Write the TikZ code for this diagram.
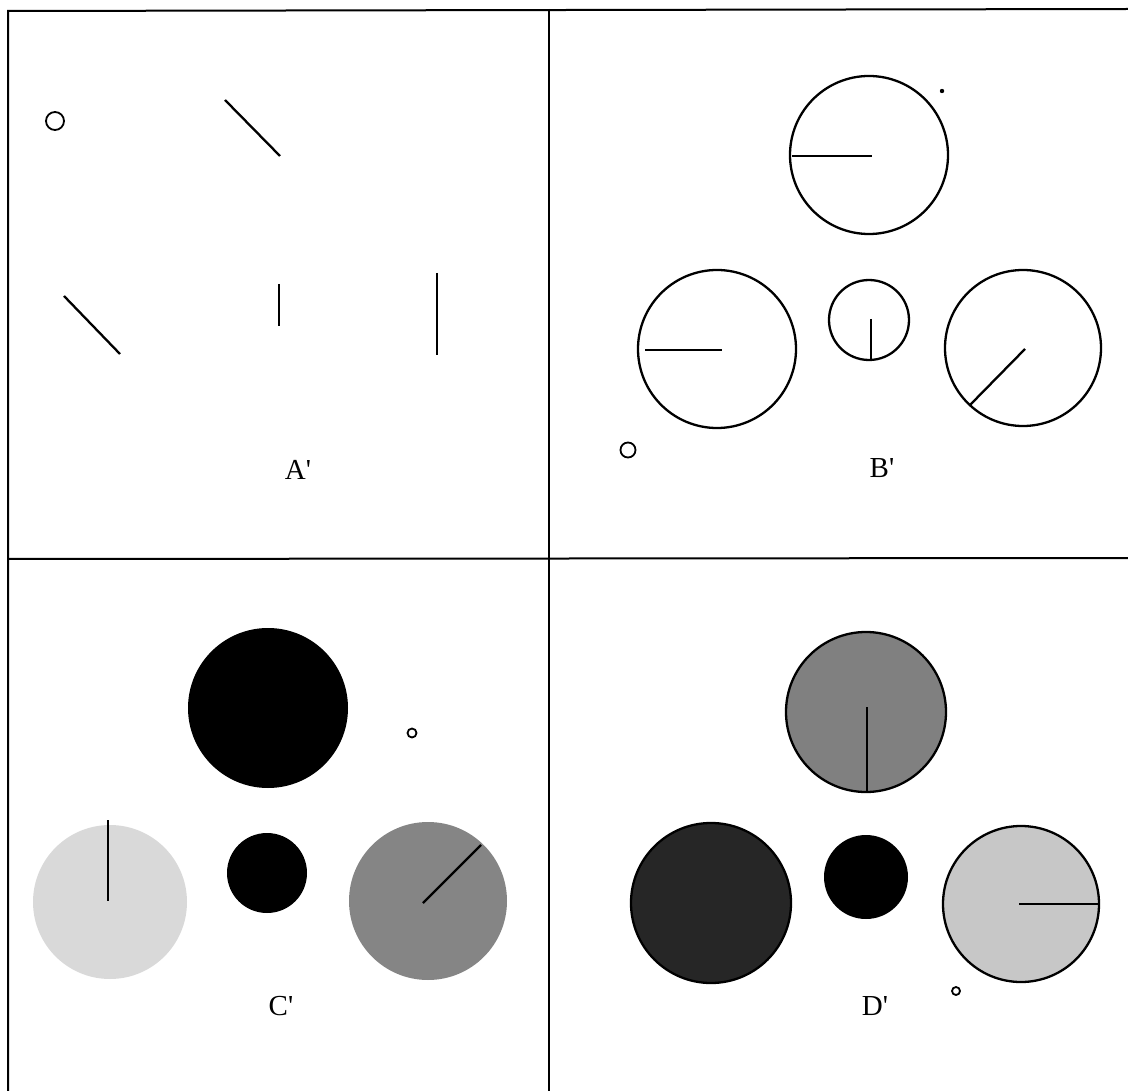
\documentclass[tikz,border=0pt]{standalone}
\usepackage{fontspec}
\setmainfont{Liberation Serif}
\begin{document}
\begin{tikzpicture}[x=1pt,y=-1pt,
  frame/.style={line width=2pt},
  ring/.style={line width=2.3pt},
  tick/.style={line width=2.3pt},
  dotc/.style={line width=1.8pt},
  lab/.style={font=\fontsize{29}{30}\selectfont, inner sep=0pt}]
\useasboundingbox (0,0) rectangle (1128,1091);
% frame
\draw[frame] (8,1091) -- (8,11) -- (1128,9);
\draw[frame] (549,9) -- (549,1091);
\draw[frame] (8,559) -- (1128,558);
% Panel A
\draw[dotc] (55,121) circle (9);
\draw[tick] (225,100) -- (280,156);
\draw[tick] (64,296) -- (120,354);
\draw[tick] (279,284) -- (279,326);
\draw[tick] (437,273) -- (437,355);
\node[lab] (la) at (298,470) {A\textquotesingle};
% Panel B
\draw[ring] (869,155) circle (79);
\draw[tick] (792,156) -- (872,156);
\fill (942,91) circle (2.2);
\draw[ring] (717,349) circle (79);
\draw[tick] (645,350) -- (722,350);
\draw[ring] (869,320) circle (40);
\draw[tick] (871,319) -- (871,360);
\draw[ring] (1023,348) circle (78);
\draw[tick] (1025,349) -- (970,405);
\draw[dotc] (628,450) circle (7.5);
\node[lab] (lb) at (882,468) {B\textquotesingle};
% Panel C
\fill[black] (268,708) circle (80);
\draw[dotc] (412,733) circle (4.5);
\fill[black!15] (110,902) circle (77);
\draw[tick] (108,820) -- (108,901);
\fill[black] (267,873) circle (40);
\fill[black!48] (428,901) circle (79);
\draw[tick] (423,903) -- (481,845);
\node[lab] (lc) at (281,1006) {C\textquotesingle};
% Panel D
\draw[ring, fill=black!50] (866,712) circle (80);
\draw[tick] (867,707) -- (867,791);
\draw[ring, fill=black!85] (711,903) circle (80);
\fill[black] (866,877) circle (42);
\draw[ring, fill=black!22] (1021,904) circle (78);
\draw[tick] (1019,904) -- (1099,904);
\draw[dotc] (956,991) circle (4);
\node[lab] (ld) at (875,1006) {D\textquotesingle};
\end{tikzpicture}
\end{document}
